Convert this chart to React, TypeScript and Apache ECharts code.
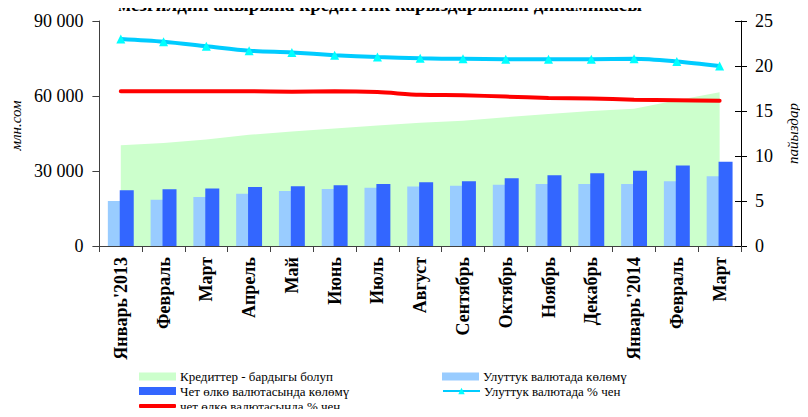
import React, { useEffect, useRef } from "react";
import * as echarts from "echarts";

const categories = [
  "Январь'2013", "Февраль", "Март", "Апрель", "Май", "Июнь", "Июль", "Август",
  "Сентябрь", "Октябрь", "Ноябрь", "Декабрь", "Январь'2014", "Февраль ", "Март ",
];
const totalCredits = [40300, 41200, 42600, 44500, 45800, 47000, 48200, 49300, 50100, 51500, 52800, 54000, 54900, 58300, 61500];
const nationalVolume = [18000, 18500, 19600, 20900, 22000, 22800, 23300, 23800, 24100, 24500, 24800, 24800, 24800, 25900, 27900];
const foreignVolume = [22300, 22700, 23000, 23600, 23900, 24300, 24800, 25500, 25900, 27100, 28300, 29100, 30100, 32200, 33700];
const nationalPct = [23.0, 22.7, 22.2, 21.7, 21.5, 21.2, 21.0, 20.85, 20.8, 20.75, 20.75, 20.75, 20.8, 20.5, 20.0];
const foreignPct = [17.2, 17.2, 17.2, 17.2, 17.15, 17.2, 17.1, 16.8, 16.75, 16.6, 16.45, 16.4, 16.25, 16.2, 16.15];
const leftTicks = [0, 30000, 60000, 90000];

const NAMES = {
  total: "Кредиттер - бардыгы болуп",
  nat: "Улуттук валютада көлөмү",
  frn: "Чет өлкө валютасында көлөмү",
  natPct: "Улуттук валютада % чен",
  frnPct: "чет өлкө валютасында % чен",
};

const SERIF = "Liberation Serif";

export default function App() {
  const ref = useRef<HTMLDivElement>(null);
  useEffect(() => {
    if (!ref.current) return;
    const chart = echarts.init(ref.current, undefined, { renderer: "svg" });
    const fmt = (v: number) =>
      v === 0 ? "0" : String(v).replace(/\B(?=(\d{3})+(?!\d))/g, " ");
    const legendText = { fontFamily: SERIF, fontSize: 13, color: "#000", lineHeight: 12, padding: [0, 0, 0, -1] };
    const mkLegend = (name: string, left: number, centerY: number, icon?: string, h = 8) => ({
      left,
      top: centerY - 9,
      padding: 0,
      orient: "horizontal",
      itemWidth: 37,
      itemHeight: h,
      selectedMode: false,
      textStyle: legendText,
      data: [icon ? { name, icon } : { name }],
    });
    chart.setOption({
      animation: false,
      textStyle: { fontFamily: SERIF, color: "#000" },
      graphic: [
        {
          type: "text",
          x: 380,
          y: 14,
          style: {
            text: "мезгилдин акырына кредиттик карыздарынын динамикасы",
            fontFamily: SERIF,
            fontWeight: "bold",
            fontSize: 19,
            fill: "#000",
            align: "center",
            verticalAlign: "bottom",
          },
        },
      ],
      grid: { left: 97, right: 55, top: 21, bottom: 171, containLabel: false },
      legend: [
        mkLegend(NAMES.total, 139, 379, "rect"),
        mkLegend(NAMES.frn, 139, 393.5, "rect"),
        mkLegend(NAMES.frnPct, 139, 408.5, "roundRect", 4),
        mkLegend(NAMES.nat, 442, 379, "rect"),
        mkLegend(NAMES.natPct, 442, 393.5),
      ],
      xAxis: {
        type: "category",
        data: categories,
        boundaryGap: true,
        axisLine: { lineStyle: { color: "#404040", width: 1 } },
        axisTick: { show: true, length: 6, lineStyle: { color: "#404040" } },
        axisLabel: {
          rotate: 90,
          interval: 0,
          fontFamily: SERIF,
          fontWeight: "bold",
          fontSize: 18,
          color: "#000",
          margin: 11,
          formatter: (v: string) => v.trim(),
        },
      },
      yAxis: [
        {
          type: "value",
          min: 0,
          max: 90000,
          interval: 30000,
          position: "left",
          splitLine: { show: false },
          axisLine: { show: true, lineStyle: { color: "#404040" } },
          axisTick: { show: true, length: 7, lineStyle: { color: "#404040" } },
          axisLabel: {
            fontFamily: SERIF,
            fontSize: 18,
            color: "#000",
            margin: 16,
            formatter: (v: number) => (leftTicks.includes(v) ? fmt(v) : ""),
          },
          name: "млн.сом",
          nameLocation: "middle",
          nameGap: 72,
          nameRotate: 90,
          nameTextStyle: { fontFamily: SERIF, fontStyle: "italic", fontSize: 15, color: "#000", padding: [0, 0, 0, 16] },
        },
        {
          type: "value",
          min: 0,
          max: 25,
          interval: 5,
          position: "right",
          splitLine: { show: false },
          axisLine: { show: true, lineStyle: { color: "#000" } },
          axisTick: { show: true, length: 6, lineStyle: { color: "#000" } },
          axisLabel: { fontFamily: SERIF, fontSize: 18, color: "#000", margin: 14 },
          name: "пайыздар",
          nameLocation: "middle",
          nameGap: 44,
          nameRotate: 90,
          nameTextStyle: { fontFamily: SERIF, fontStyle: "italic", fontSize: 15, color: "#000" },
        },
        {
          type: "value",
          min: 0,
          max: 25,
          interval: 5,
          position: "right",
          splitLine: { show: false },
          axisLine: { show: false },
          axisTick: { show: true, inside: true, length: 6, lineStyle: { color: "#000" } },
          axisLabel: { show: false },
        },
      ],
      series: [
        {
          name: NAMES.total,
          type: "line",
          yAxisIndex: 0,
          data: totalCredits,
          symbol: "none",
          lineStyle: { width: 0, color: "#CCFFCC" },
          itemStyle: { color: "#CCFFCC" },
          areaStyle: { color: "#CCFFCC", opacity: 1 },
          z: 1,
        },
        {
          name: NAMES.nat,
          type: "bar",
          yAxisIndex: 0,
          data: nationalVolume,
          barWidth: 14,
          barGap: "-15%",
          itemStyle: { color: "#99CCFF" },
          z: 2,
        },
        {
          name: NAMES.frn,
          type: "bar",
          yAxisIndex: 0,
          data: foreignVolume,
          barWidth: 14,
          barGap: "-15%",
          itemStyle: { color: "#3366FF" },
          z: 3,
        },
        {
          name: NAMES.natPct,
          type: "line",
          yAxisIndex: 1,
          data: nationalPct,
          smooth: 0.3,
          symbol: "triangle",
          symbolSize: 9,
          showSymbol: true,
          lineStyle: { width: 4, color: "#00CCFF" },
          itemStyle: { color: "#00FFFF", borderWidth: 0 },
          z: 5,
        },
        {
          name: NAMES.frnPct,
          type: "line",
          yAxisIndex: 1,
          data: foreignPct,
          smooth: 0.3,
          symbol: "none",
          lineStyle: { width: 4, color: "#FF0000", cap: "round" },
          itemStyle: { color: "#FF0000" },
          z: 4,
        },
      ],
    });
    return () => chart.dispose();
  }, []);
  return <div ref={ref} style={{ width: 808, height: 417, margin: -8 }} />;
}
